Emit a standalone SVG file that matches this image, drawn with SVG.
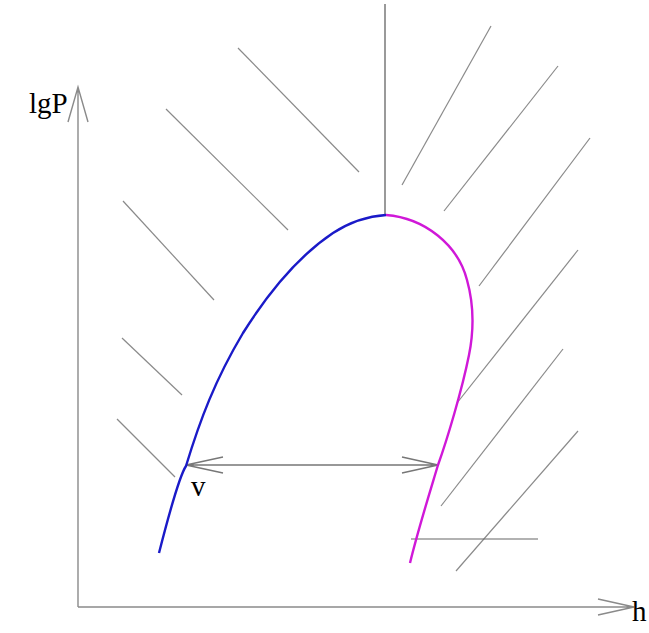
<svg xmlns="http://www.w3.org/2000/svg" width="649" height="633" viewBox="0 0 649 633">
<style>
.hatch{stroke:#8a8a8a;stroke-width:1.2;fill:none}
.axis{stroke:#8a8a8a;stroke-width:1.4;fill:none}
.lbl{font-family:"Liberation Serif","Times New Roman",serif;font-size:29px;fill:#000}
</style>
<rect width="649" height="633" fill="#fff"/>
<g id="hatching">
<line class="hatch" x1="238" y1="48" x2="359" y2="172"/>
<line class="hatch" x1="166" y1="109" x2="288" y2="230"/>
<line class="hatch" x1="123" y1="201" x2="214" y2="300"/>
<line class="hatch" x1="122" y1="338" x2="182" y2="395"/>
<line class="hatch" x1="117" y1="419" x2="175" y2="477"/>
<line class="hatch" x1="491" y1="26" x2="402" y2="185"/>
<line class="hatch" x1="558" y1="66" x2="444" y2="211"/>
<line class="hatch" x1="590" y1="138" x2="479" y2="286"/>
<line class="hatch" x1="578" y1="250" x2="457" y2="403"/>
<line class="hatch" x1="563" y1="349" x2="441" y2="506"/>
<line class="hatch" x1="578" y1="431" x2="456" y2="571"/>
<line class="hatch" x1="411" y1="539" x2="538" y2="539" style="stroke:#666"/>
<line x1="385" y1="4" x2="385" y2="216" style="stroke:#9a9a9a;stroke-width:2"/>
</g>
<g id="axes">
<path class="axis" d="M78,607 V87 M68,122 L78,87 L88,122"/>
<path class="axis" d="M78,607 H634 M598,599 L634,607 L598,615"/>
</g>
<g id="connectors">
<path class="axis" d="M186,465 H438 M223,457 L186,465 L223,473 M402,457 L438,465 L402,473" style="stroke:#777"/>
</g>
<g id="curve-liquid">
<path d="M159,553 C170,510 180,475 186,466 C200,420 215,380 243,333 C270,290 300,255 333,233 C350,222 370,216 386,215" fill="none" stroke="#1a1ac8" stroke-width="2.4"/>
</g>
<g id="curve-vapor">
<path d="M386,215 C425,218 458,245 467,280 C474,305 474,330 469,355 C462,390 447,440 438,465 C429,495 418,530 410,563" fill="none" stroke="#d018d8" stroke-width="2.4"/>
</g>
<g id="labels">
<text class="lbl" x="29" y="113">lgP</text>
<text class="lbl" x="632" y="621">h</text>
<text class="lbl" x="191" y="496">v</text>
</g>
</svg>
